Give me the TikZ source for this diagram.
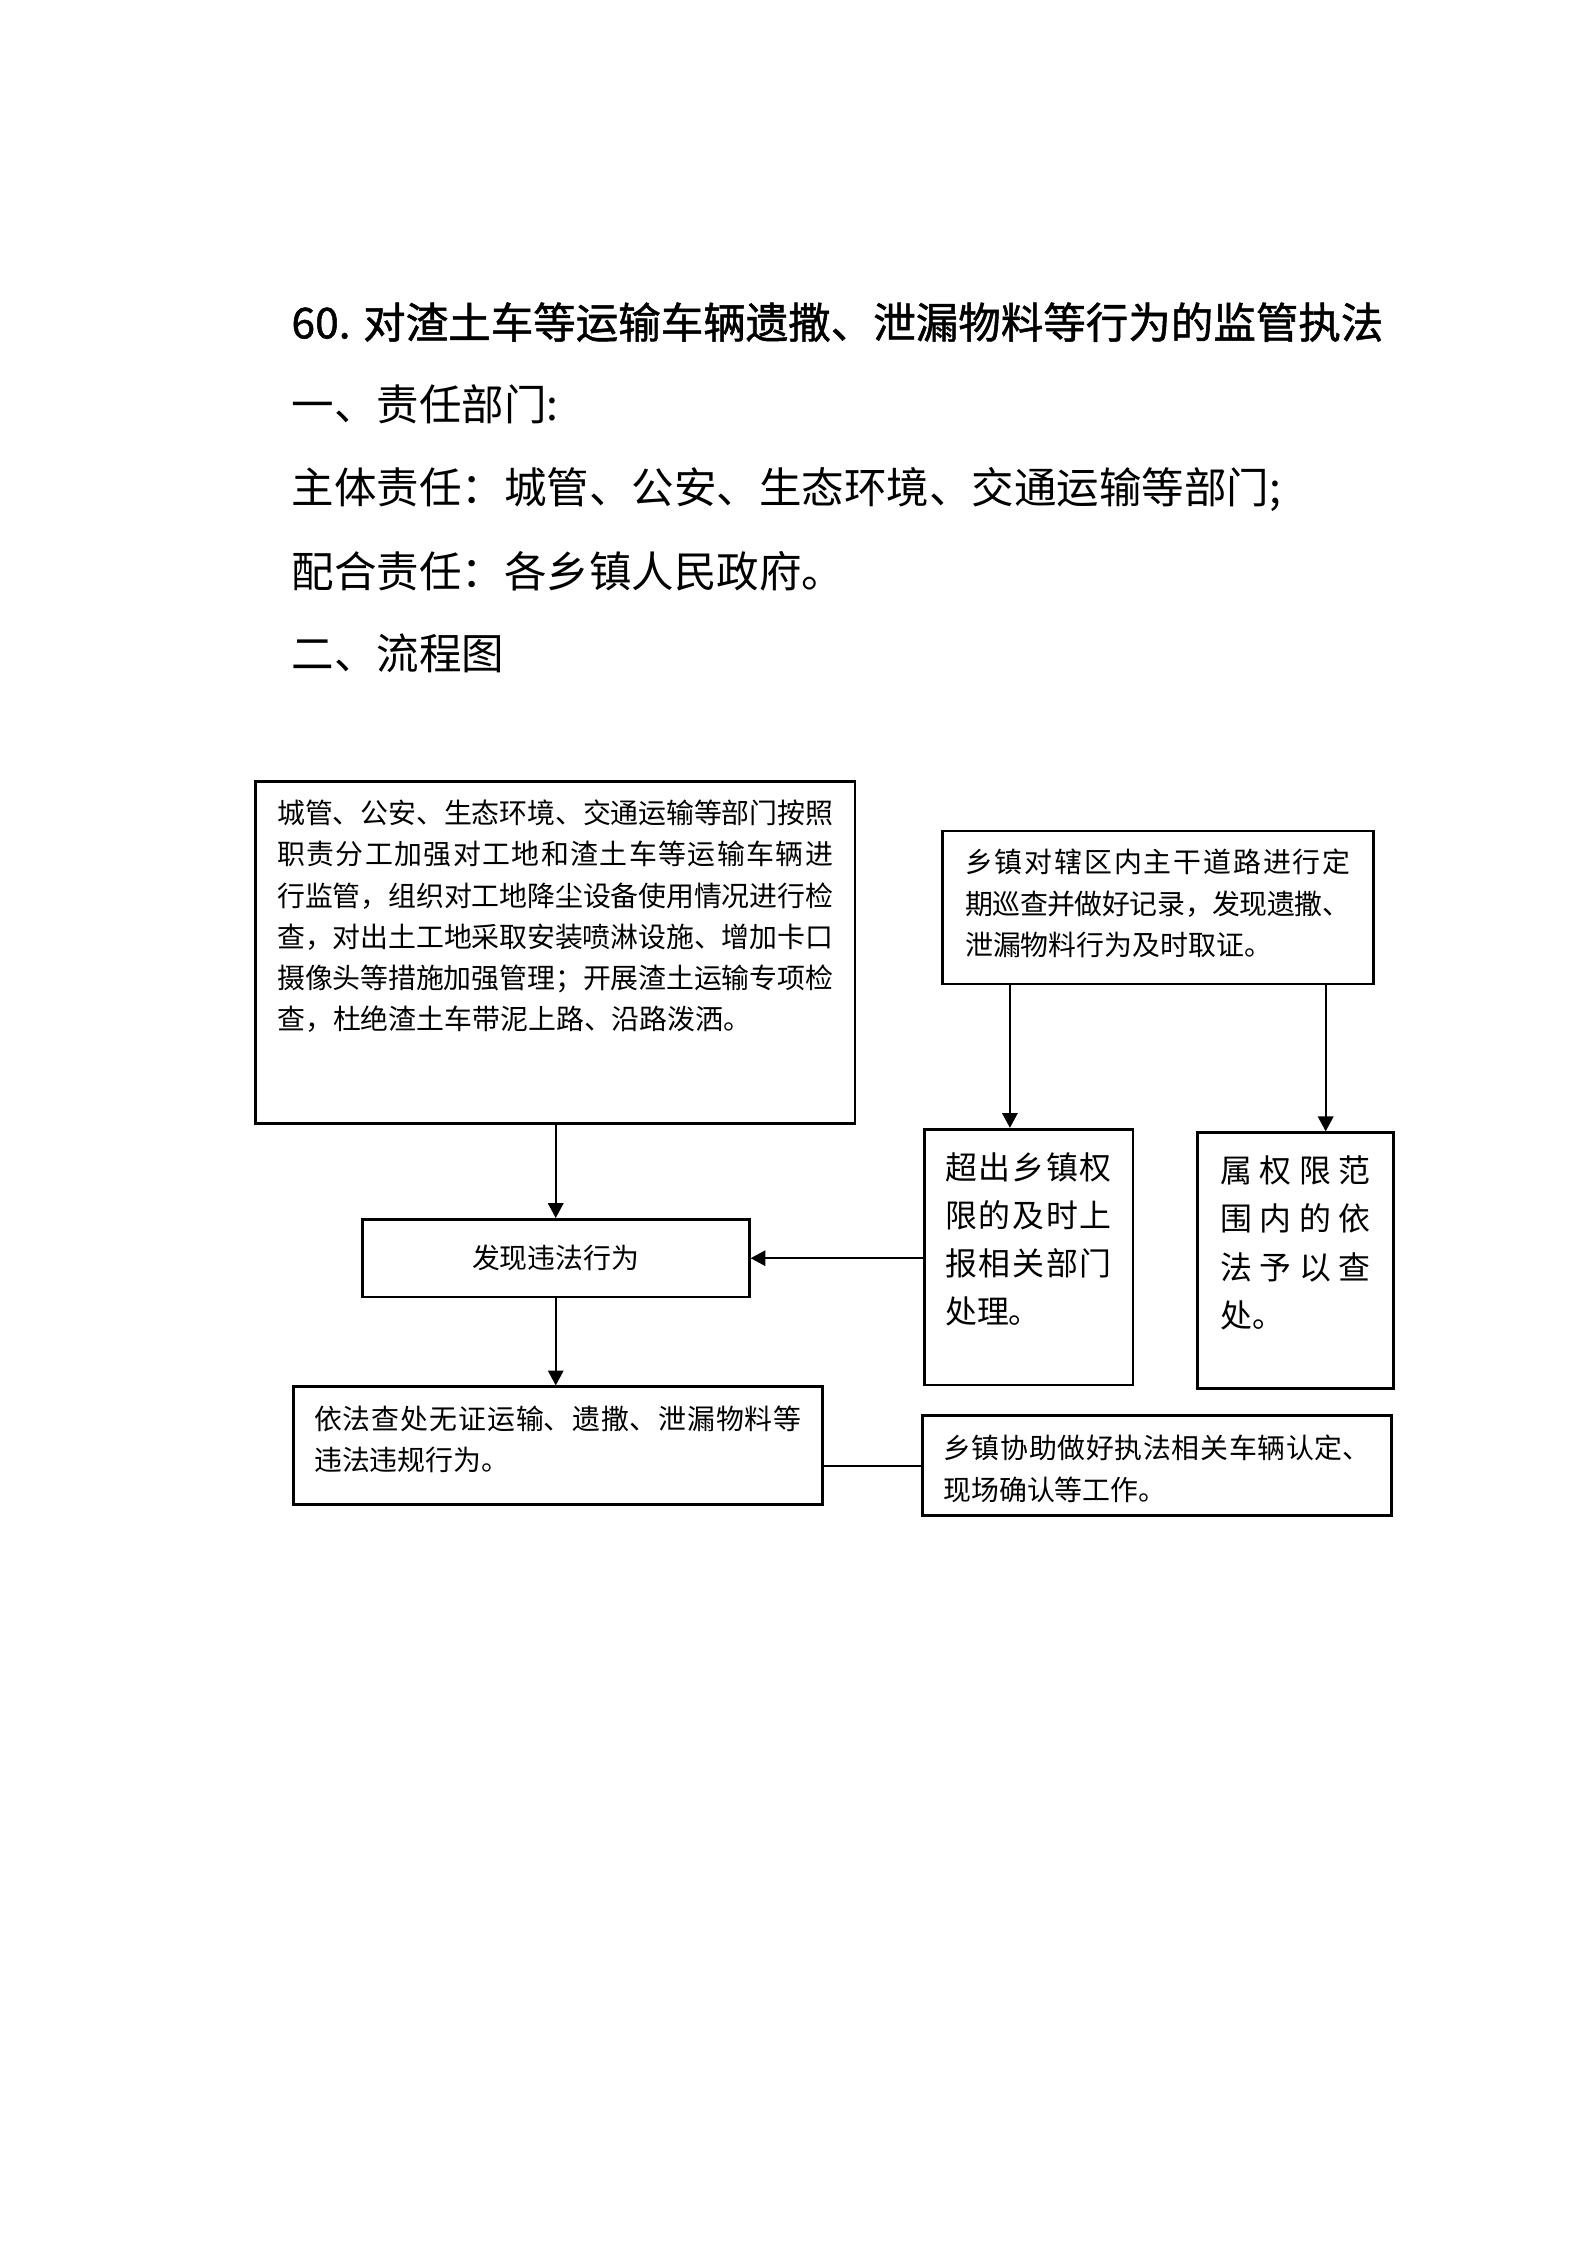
\documentclass[tikz,border=0pt]{standalone}
\usepackage{fontspec}
\setmainfont{Noto Sans CJK SC}
\usepackage{tikz}
\usetikzlibrary{arrows.meta}
\XeTeXlinebreaklocale "zh"
\XeTeXlinebreakskip=0pt plus 3pt minus 0.5pt
\newcommand{\wuhao}{\fontsize{10.5pt}{15.5pt}\selectfont}
\newcommand{\xiaosi}{\fontsize{12pt}{18.1pt}\selectfont}
\newcommand{\sanhao}{\fontsize{16pt}{20pt}\selectfont}

\begin{document}
\begin{tikzpicture}[
    blk/.style={draw, line width=1pt, anchor=north west, inner ysep=0pt, align=justify, font=\wuhao},
    arr/.style={-{Triangle[length=5.6pt,width=5.8pt]}, line width=0.8pt},
    head/.style={anchor=base west, inner sep=0pt, font=\sanhao}]
  \path[fill=white] (0,0) rectangle (21,-29.7);
  % heading
  \node[head, font=\sanhao\addfontfeature{FakeBold=1.2}] (title) at (3.85,-4.476) {60. 对渣土车等运输车辆遗撒、泄漏物料等行为的监管执法};
  \foreach \i/\y/\t in {1/5.561/{一、责任部门:}, 2/6.666/{主体责任：城管、公安、生态环境、交通运输等部门;},
                        3/7.771/{配合责任：各乡镇人民政府。}, 4/8.863/{二、流程图}}{
    \node[head] (l\i) at (3.85,-\y) {\t};
  }
  % boxes
  \node[blk, inner xsep=0.29cm, text width=7.355cm, text height=0.560cm, text depth=3.962cm] (dept) at (3.36,-10.32)
    {城管、公安、生态环境、交通运输等部门按照\linebreak 职责分工加强对工地和渣土车等运输车辆进\linebreak 行监管，组织对工地降尘设备使用情况进行检\linebreak 查，对出土工地采取安装喷淋设施、增加卡口\linebreak 摄像头等措施加强管理；开展渣土运输专项检\linebreak 查，杜绝渣土车带泥上路、沿路泼洒。};
  \node[draw, line width=1pt, inner sep=0pt, font=\wuhao, minimum width=5.121cm, minimum height=1.028cm] (find) at (7.352,-16.645) {发现违法行为};
  \node[blk, inner xsep=0.274cm, text width=6.45cm, text height=0.560cm, text depth=0.998cm] (punish) at (3.864,-18.328)
    {依法查处无证运输、遗撒、泄漏物料等\linebreak 违法违规行为。};
  \node[blk, inner xsep=0.299cm, text width=5.099cm, text height=0.554cm, text depth=1.469cm] (patrol) at (12.452,-10.977)
    {乡镇对辖区内主干道路进行定\linebreak 期巡查并做好记录，发现遗撒、\linebreak 泄漏物料行为及时取证。};
  \node[blk, font=\xiaosi, inner xsep=0.278cm, text width=2.204cm, text height=0.660cm, text depth=2.725cm] (report) at (12.209,-14.921)
    {超出乡镇权\linebreak 限的及时上\linebreak 报相关部门\linebreak 处理。};
  \node[blk, font=\xiaosi, inner xsep=0.300cm, text width=1.987cm, text height=0.664cm, text depth=2.716cm] (handle) at (15.827,-14.967)
    {属权限范\linebreak 围内的依\linebreak 法予以查\linebreak 处。};
  \node[blk, font=\fontsize{10.5pt}{15.9pt}\selectfont, inner xsep=0.278cm, text width=5.654cm, text height=0.564cm, text depth=0.759cm] (assist) at (12.184,-18.712)
    {乡镇协助做好执法相关车辆认定、\linebreak 现场确认等工作。};
  % connectors
  \draw[arr] (find.north |- dept.south) -- (find.north);
  \draw[arr] (find.south) -- (find.south |- punish.north);
  \draw[arr] ([xshift=-0.246cm]report.north |- patrol.south) -- ([xshift=-0.246cm]report.north);
  \draw[arr] ([xshift=0.40cm]handle.north |- patrol.south) -- ([xshift=0.40cm]handle.north);
  \draw[arr] (report.west |- find.east) -- (find.east);
  \draw[line width=0.8pt] (punish.east |- assist.west) -- (assist.west);
\end{tikzpicture}
\end{document}
